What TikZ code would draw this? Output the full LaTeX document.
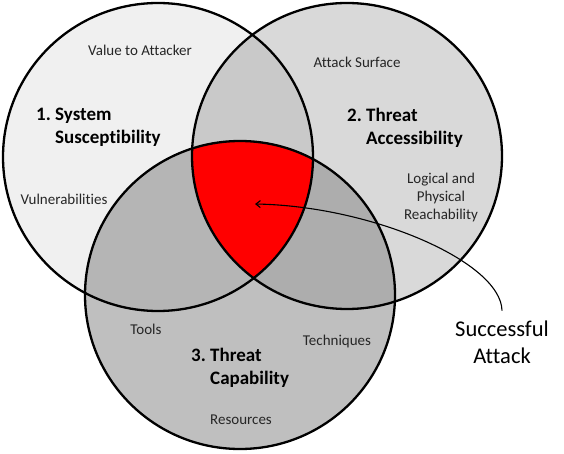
\documentclass[tikz,border=0pt]{standalone}
\usepackage{fontspec}
\setmainfont{Carlito}[Ligatures={NoCommon}]
\usetikzlibrary{arrows.meta}
\tikzstyle{ring} = [draw,line width=2.3pt]
\tikzstyle{factor} = [font=\fontsize{19}{23}\selectfont\bfseries,align=left,inner sep=0pt]
\tikzstyle{aspect} = [font=\fontsize{15}{18}\selectfont,text=black!85,align=center,inner sep=0pt]
\tikzstyle{callout} = [font=\fontsize{22.5}{27}\selectfont,align=center,inner sep=0pt,outer ysep=10pt]
\tikzstyle{pointer} = [draw,line width=1.1pt,-{Straight Barb[length=4.5pt,width=7pt]}]

\begin{document}
\begin{tikzpicture}[x=1pt,y=-1pt]
    \useasboundingbox (0,0) rectangle (564,454);
    % First we fill the three circles
    \foreach \pos/\rx/\ry/\shade in {{(158,157)/155/154/black!6},{(347,156)/155/153/black!15},{(240,295)/155/154/black!25}}
        \fill[\shade] \pos ellipse [x radius=\rx, y radius=\ry];

    % Then the overlaps
    \begin{scope}
        \clip (158,157) ellipse [x radius=155, y radius=154];
        \fill[black!21] (347,156) ellipse [x radius=155, y radius=153];
        \fill[black!29] (240,295) ellipse [x radius=155, y radius=154];
    \end{scope}
    \begin{scope}
        \clip (347,156) ellipse [x radius=155, y radius=153];
        \fill[black!32] (240,295) ellipse [x radius=155, y radius=154];
        \clip (158,157) ellipse [x radius=155, y radius=154];
        \fill[red] (240,295) ellipse [x radius=155, y radius=154];
    \end{scope}

    % Outlines on top
    \foreach \pos/\rx/\ry in {{(158,157)/155/154},{(347,156)/155/153},{(240,295)/155/154}}
        \path[ring] \pos ellipse [x radius=\rx, y radius=\ry];

    % The three factors
    \node[factor,anchor=west] (susceptibility) at (36,127.5) {1.~System\\\hphantom{1.~}Susceptibility};
    \node[factor,anchor=west] (accessibility) at (347,127.5) {2.~Threat\\\hphantom{2.~}Accessibility};
    \node[factor,anchor=west] (capability) at (191,368) {3.~Threat\\\hphantom{3.~}Capability};

    % Their aspects
    \foreach \pos/\name/\text in {{(140,50.5)/value/Value to Attacker},{(64,199)/vulnerabilities/Vulnerabilities},
        {(357,62)/surface/Attack Surface},{(441,197.5)/reach/Logical and\\Physical\\Reachability},
        {(146,329.5)/tools/Tools},{(337,341)/techniques/Techniques},{(241,419.5)/resources/Resources}}
        \node[aspect] (\name) at \pos {\text};

    % Successful attack
    \node[callout] (attack) at (502,342) {Successful\\Attack};
    \coordinate (hit) at (255,204);
    \path[pointer] (attack.north) .. controls (501,262) and (372,206) .. (hit);
\end{tikzpicture}
\end{document}
